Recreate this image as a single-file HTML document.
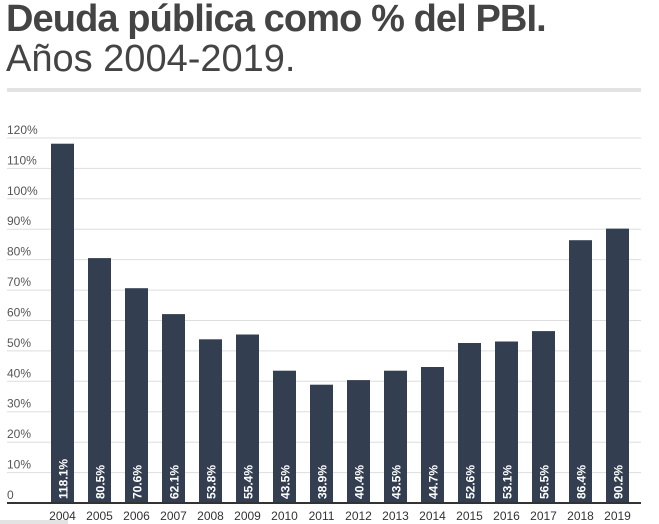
<!DOCTYPE html>
<html><head><meta charset="utf-8"><style>
body{margin:0;background:#fff;width:659px;height:524px;overflow:hidden;font-family:"Liberation Sans",sans-serif}
.t{position:absolute;left:6px;font-size:38px;line-height:38px;white-space:nowrap}
</style></head><body>
<div class="t" style="top:0px;font-weight:bold;color:#444;letter-spacing:-0.9px">Deuda pública como % del PBI.</div>
<div class="t" style="top:40px;color:#444">Años 2004-2019.</div>
<svg width="659" height="524" style="position:absolute;left:0;top:0">
<rect x="7" y="88" width="634" height="4" fill="#e3e3e3"/>
<rect x="0" y="520" width="68" height="4" fill="#e3e3e3"/>
<g id="g"></g>
</svg>
<script>
var s='',base=503,k=3.042;
for(var i=1;i<=12;i++){var y=base-i*10*k;s+='<line x1="7" x2="641" y1="'+y.toFixed(1)+'" y2="'+y.toFixed(1)+'" stroke="#ddd" stroke-width="1"/>';
s+='<text x="7" y="'+(y-4).toFixed(1)+'" font-size="12" fill="#555">'+(i*10)+'%</text>';}
s+='<text x="7" y="'+(base-4)+'" font-size="12" fill="#555">0</text>';
var v=[118.1,80.5,70.6,62.1,53.8,55.4,43.5,38.9,40.4,43.5,44.7,52.6,53.1,56.5,86.4,90.2];
for(var j=0;j<16;j++){var x=51+j*37,h=v[j]*k;
s+='<rect x="'+x+'" y="'+(base-h).toFixed(1)+'" width="23" height="'+h.toFixed(1)+'" fill="#333f50"/>';
s+='<text transform="translate('+(x+16.5)+',499) rotate(-90)" font-size="12" font-weight="bold" fill="#fff">'+v[j]+'%</text>';
s+='<text x="'+(x+11.5)+'" y="520" font-size="12" fill="#333" text-anchor="middle">'+(2004+j)+'</text>';}
s+='<rect x="7" y="502" width="634" height="2" fill="#333"/>';
document.getElementById('g').innerHTML=s;
</script>
</body></html>
